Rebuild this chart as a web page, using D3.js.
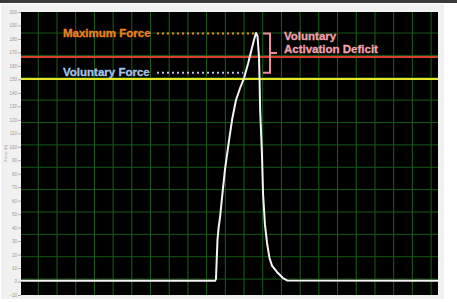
<!DOCTYPE html>
<html>
<head>
<meta charset="utf-8">
<script src="https://cdn.jsdelivr.net/npm/d3@7"></script>
<style>
  html, body { margin: 0; padding: 0; background: #fff; }
  svg { display: block; font-family: "Liberation Sans", Arial, sans-serif; }
</style>
</head>
<body>
<div id="chart"></div>
<script>
// force trace (time in grid units, force in N)
var traceTime = [0.075, 10.45, 10.50, 10.58, 10.64, 10.72, 10.81, 10.98, 11.20, 11.36, 11.57, 11.79, 12.00,
                 12.21, 12.37, 12.53, 12.64, 12.72, 12.80, 12.83, 12.86, 12.95, 13.02, 13.12, 13.23, 13.36,
                 13.50, 13.76, 14.08, 14.30, 22.37];
var traceForce = [0.5, 0.5, 2, 31, 40, 48, 60.5, 83, 105, 120, 134.7, 143.6, 151,
                  161.4, 170.3, 179.2, 184.4, 182.2, 166.6, 149.6, 127.3, 97.6, 64.2, 42, 28.6, 17.5,
                  11.6, 7.1, 2.6, 0.8, 0.5];

var yTicks = [200, 190, 180, 170, 160, 150, 140, 130, 120, 110, 100, 90, 80, 70, 60, 50, 40, 30, 20, 10, 0, -10];
var hGrid = [184.4, 167.8, 151.2, 134.6, 118, 101.4, 84.8, 68.2, 51.6, 35, 18.4, 1.8];
var vGrid = d3.range(1, 23);

var maxForce = 184.4,
    voluntaryForce = 155,
    redLevel = 166.6,
    yellowLevel = 150.3;

var width = 457, height = 302;
var plot = {left: 21, right: 438, top: 12, bottom: 295};

var svg = d3.select("#chart").append("svg")
    .attr("width", width)
    .attr("height", height);

// window chrome
svg.append("rect").attr("x", 0).attr("y", 0).attr("width", width).attr("height", height).attr("fill", "#ffffff");
svg.append("rect").attr("x", 1).attr("y", 4).attr("width", 443).attr("height", 295).attr("fill", "#f1f1f1");
svg.append("rect").attr("x", 0).attr("y", 0).attr("width", width).attr("height", 3).attr("fill", "#3a3a3a");

var x = d3.scaleLinear().domain([0.075, 22.37]).range([plot.left, plot.right]);
var y = d3.scaleLinear().domain([-10, 200]).range([plot.bottom, plot.top]);

svg.append("rect")
    .attr("x", plot.left).attr("y", plot.top)
    .attr("width", plot.right - plot.left).attr("height", plot.bottom - plot.top)
    .attr("fill", "#000");

// grid
svg.append("g").selectAll("line").data(vGrid).enter().append("line")
    .attr("x1", function(d) { return x(d); }).attr("x2", function(d) { return x(d); })
    .attr("y1", plot.top).attr("y2", plot.bottom)
    .attr("stroke", "#196019").attr("stroke-width", 1);
svg.append("g").selectAll("line").data(hGrid).enter().append("line")
    .attr("x1", plot.left).attr("x2", plot.right)
    .attr("y1", function(d) { return y(d); }).attr("y2", function(d) { return y(d); })
    .attr("stroke", "#185818").attr("stroke-width", 1);

// y axis
var yAxis = svg.append("g")
    .attr("transform", "translate(" + plot.left + ",0)")
    .call(d3.axisLeft(y).tickValues(yTicks).tickSize(3).tickPadding(1));
yAxis.select(".domain").remove();
yAxis.selectAll("line").attr("stroke", "#aaa");
yAxis.selectAll("text").attr("fill", "#999").style("font-size", "4.5px");

svg.append("text")
    .attr("transform", "translate(7,153) rotate(-90)")
    .attr("text-anchor", "middle")
    .attr("fill", "#999")
    .style("font-size", "4px")
    .text("Force (N)");

// reference levels
function hline(v, color, w) {
    svg.append("line")
        .attr("x1", plot.left).attr("x2", plot.right)
        .attr("y1", y(v)).attr("y2", y(v))
        .attr("stroke", color).attr("stroke-width", w);
}
hline(redLevel, "#d9402a", 2.2);
hline(yellowLevel, "#e6e62a", 2);

// trace
var line = d3.line()
    .x(function(d, i) { return x(traceTime[i]); })
    .y(function(d) { return y(d); });
svg.append("path")
    .datum(traceForce)
    .attr("d", line)
    .attr("fill", "none")
    .attr("stroke", "#f4f4f4")
    .attr("stroke-width", 2)
    .attr("stroke-linejoin", "round");

// dotted guides
svg.append("line")
    .attr("x1", 157).attr("x2", x(12.58))
    .attr("y1", y(maxForce) + 0.5).attr("y2", y(maxForce) + 0.5)
    .attr("stroke", "#f08a1e").attr("stroke-width", 2).attr("stroke-dasharray", "2,3");
svg.append("line")
    .attr("x1", 157).attr("x2", x(11.95))
    .attr("y1", y(voluntaryForce)).attr("y2", y(voluntaryForce))
    .attr("stroke", "#a6c4e6").attr("stroke-width", 2).attr("stroke-dasharray", "2,3");

// labels
var labelStyle = function(sel, color) {
    sel.attr("fill", color).attr("stroke", color).attr("stroke-width", 0.3)
        .style("font-size", "11.5px").style("font-weight", "bold");
};
svg.append("text").attr("x", 63).attr("y", 37).call(labelStyle, "#f0821e").text("Maximum Force");
svg.append("text").attr("x", 63).attr("y", 76).call(labelStyle, "#a6c4e6").text("Voluntary Force");

// bracket
var bx = 270, bTop = y(maxForce) + 0.5, bBot = y(voluntaryForce), bMid = (bTop + bBot) / 2;
svg.append("path")
    .attr("d", "M" + (bx - 7) + "," + bTop + " H" + bx + " V" + bBot + " H" + (bx - 7)
        + " M" + bx + "," + bMid + " H" + (bx + 7))
    .attr("fill", "none")
    .attr("stroke", "#f08c9c").attr("stroke-width", 2);

svg.append("text").attr("x", 284).attr("y", 40).call(labelStyle, "#f4a2ae").text("Voluntary");
svg.append("text").attr("x", 284).attr("y", 53).call(labelStyle, "#f4a2ae").text("Activation Deficit");
</script>
</body>
</html>
